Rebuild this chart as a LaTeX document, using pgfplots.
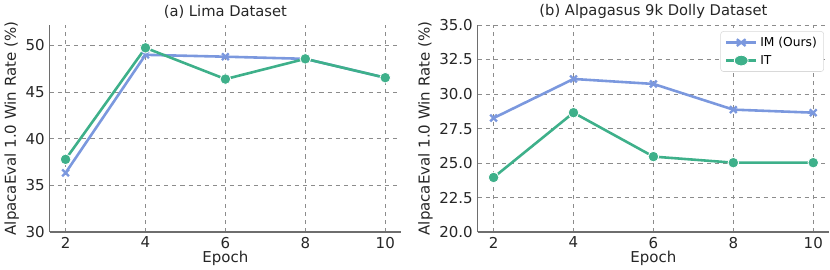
\documentclass[border=0pt]{standalone}
\usepackage{fontspec}
\setmainfont{DejaVu Sans}
\usepackage{pgfplots}
\pgfplotsset{compat=1.18}
\definecolor{imblue}{RGB}{123,152,222}
\definecolor{itgreen}{RGB}{62,176,138}
\definecolor{spine}{RGB}{110,110,110}
\pgfplotsset{
  mystyle/.style={
    scale only axis, width=258pt, height=152pt,
    axis x line*=bottom, axis y line*=left,
    axis line style={spine, line width=1.1pt},
    xmin=1.6, xmax=10.4,
    xtick={2,4,6,8,10},
    major tick length=0pt,
    grid=major,
    major grid style={gray!90, dashed, line width=0.5pt},
    tick label style={font=\fontsize{11}{13}\selectfont, text=black!85},
    label style={font=\fontsize{11}{13}\selectfont, text=black!85},
    title style={font=\fontsize{10.8}{12}\selectfont, text=black!85, yshift=-5pt},
    xlabel={Epoch},
    ylabel={AlpacaEval 1.0 Win Rate (\%)},
    xlabel style={yshift=5pt},
    ylabel style={yshift=-2pt},
    /pgf/number format/assume math mode=true,
    clip=false,
  },
  imline/.style={imblue, line width=1.9pt, mark=x, mark size=3.5pt, mark options={line width=1.7pt}},
  itline/.style={itgreen, line width=1.9pt, mark=*, mark size=3.9pt, mark options={draw=white, line width=0.6pt, fill=itgreen}},
}
\begin{document}
\begin{tikzpicture}
\begin{axis}[mystyle, title={(a) Lima Dataset},
  ymin=30, ymax=52.2, ytick={30,35,40,45,50}]
\addplot[imline] coordinates {(2,36.35) (4,49.0) (6,48.8) (8,48.57) (10,46.55)};
\addplot[itline] coordinates {(2,37.8) (4,49.75) (6,46.4) (8,48.57) (10,46.55)};
\end{axis}
\begin{axis}[mystyle, xshift=314pt, title={(b) Alpagasus 9k Dolly Dataset},
  ymin=20, ymax=35, ytick={20,22.5,25,27.5,30,32.5,35},
  yticklabel style={/pgf/number format/.cd, fixed, fixed zerofill, precision=1},
  legend style={at={(0.985,0.97)}, anchor=north east, draw=black!15, rounded corners=2pt,
    font=\fontsize{9}{11}\selectfont, fill=white, row sep=1pt},
  legend image post style={xscale=1.3},
  legend cell align=left]
\addplot[imline] coordinates {(2,28.26) (4,31.09) (6,30.73) (8,28.87) (10,28.65)};
\addlegendentry{IM (Ours)}
\addplot[itline] coordinates {(2,23.96) (4,28.65) (6,25.47) (8,25.03) (10,25.03)};
\addlegendentry{IT}
\end{axis}
\end{tikzpicture}
\end{document}
